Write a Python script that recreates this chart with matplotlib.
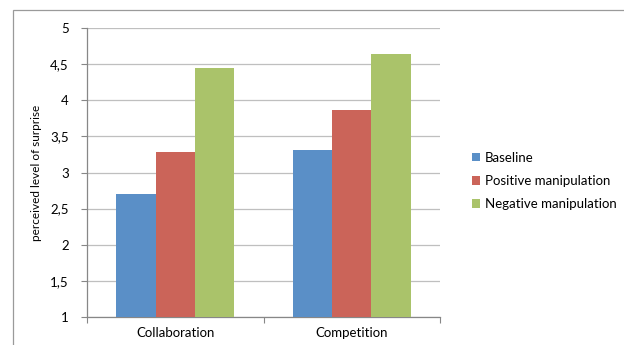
import numpy as np
import matplotlib
matplotlib.use("Agg")
import matplotlib.pyplot as plt
from matplotlib.patches import Rectangle

# data
categories = ["Collaboration", "Competition"]
series_names = ["Baseline", "Positive manipulation", "Negative manipulation"]
baseline = [2.70, 3.31]
positive = [3.28, 3.86]
negative = [4.45, 4.64]
y_ticks = [1, 1.5, 2, 2.5, 3, 3.5, 4, 4.5, 5]
y_tick_labels = ["1", "1,5", "2", "2,5", "3", "3,5", "4", "4,5", "5"]

colors = ["#5A8FC7", "#CB6459", "#AAC36A"]

plt.rcParams["font.family"] = ["Lato", "DejaVu Sans"]
FS = 9.5

W, H = 624, 345
fig = plt.figure(figsize=(W / 100, H / 100), dpi=100)
ax = fig.add_axes([87 / W, 1 - 317 / H, (440 - 87) / W, (317 - 28) / H])

# outer chart frame (only left/top visible in the crop)
fig.patches.append(Rectangle((13 / W, -0.2), 2.0, 1.2 - 10 / H,
                             transform=fig.transFigure, fill=False,
                             edgecolor="#9A9A9A", linewidth=0.9))

x = np.arange(len(categories))
bar_w = 0.222
for i, (vals, name) in enumerate(zip([baseline, positive, negative], series_names)):
    ax.bar(x + (i - 1) * bar_w, np.array(vals) - 1, bottom=1, width=bar_w,
           color=colors[i], label=name, zorder=3, linewidth=0)

ax.set_xlim(-0.5, 1.5)
ax.set_ylim(1, 5)
ax.set_yticks(y_ticks)
ax.set_yticklabels(y_tick_labels, fontsize=FS)
ax.yaxis.grid(True, color="#BFBFBF", linewidth=0.9, zorder=0)
ax.set_axisbelow(True)

# category ticks sit on the boundaries between groups
ax.set_xticks([-0.5, 0.5, 1.5])
ax.set_xticklabels([])
ax.set_xticks(x, minor=True)
ax.set_xticklabels(categories, minor=True, fontsize=FS)
ax.tick_params(axis="x", which="major", length=4, color="#878787", direction="out")
ax.tick_params(axis="x", which="minor", length=0, pad=7)
ax.tick_params(axis="y", length=4, color="#878787", pad=9)

for side in ["top", "right"]:
    ax.spines[side].set_visible(False)
for side in ["left", "bottom"]:
    ax.spines[side].set_color("#878787")
    ax.spines[side].set_linewidth(0.9)

ax.set_ylabel("perceived level of surprise", fontsize=8.5, labelpad=6)

fig.legend(loc="center left", bbox_to_anchor=(467 / W, 1 - 181 / H),
           frameon=False, fontsize=FS, handlelength=0.6, handleheight=0.6,
           handletextpad=0.35, labelspacing=0.85, borderaxespad=0)

fig.savefig("out.png", dpi=100)
